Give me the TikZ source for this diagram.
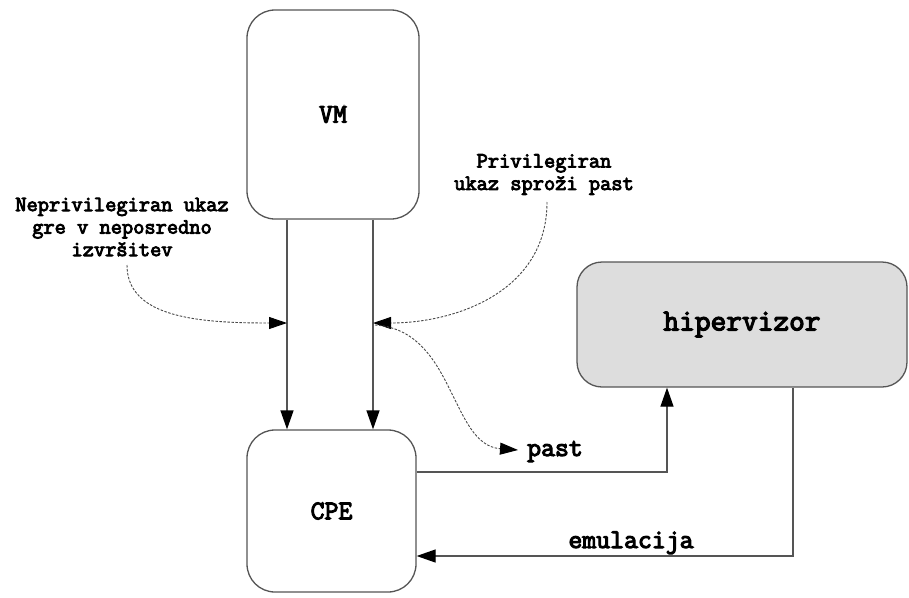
\documentclass[tikz,border=0pt]{standalone}
\usepackage{fontspec}
\setmonofont{Latin Modern Mono}[AutoFakeBold=4]
\usetikzlibrary{arrows.meta}
\definecolor{edge}{HTML}{555555}
\definecolor{hvfill}{HTML}{DDDDDD}
\begin{document}
\begin{tikzpicture}[x=1pt,y=-1pt,
  box/.style={draw=edge, line width=1.3pt, rounded corners=28pt, inner sep=0pt,
    font=\ttfamily\bfseries\fontsize{27}{31}\selectfont},
  note/.style={align=center, inner sep=0pt,
    font=\ttfamily\bfseries\fontsize{21.8}{22.5}\selectfont},
  lbl/.style={inner sep=0pt, font=\ttfamily\bfseries\fontsize{27}{31}\selectfont},
  flow/.style={draw=edge, line width=1.3pt, -{Triangle[length=19pt,width=13pt,color=black]}},
  hint/.style={draw=edge!85!black, line width=0.9pt, dash pattern=on 2.5pt off 1.5pt,
    -{Triangle[length=18pt,width=12pt,color=black]}}]
\useasboundingbox (0,0) rectangle (909,597);

% main blocks
\node[box, minimum width=172pt, minimum height=209pt] (vm) at (333,114.5) {VM};
\node[box, minimum width=169pt, minimum height=162pt] (cpe) at (331.5,511) {CPE};
\node[box, fill=hvfill, rounded corners=25pt, minimum width=330pt, minimum height=125pt,
  font=\ttfamily\bfseries\fontsize{30.5}{34}\selectfont] (hv) at (742,324.5) {hipervizor};

% instruction paths from VM to CPE
\coordinate (la) at (287,0);
\coordinate (lb) at (373,0);
\draw[flow] (vm.south -| la) -- (cpe.north -| la);
\draw[flow] (vm.south -| lb) -- (cpe.north -| lb);

% annotations
\node[note] (nonpriv) at (122,227) {Neprivilegiran ukaz\\gre v neposredno\\izvršitev};
\node[note] (priv) at (544,174.5) {Privilegiran\\ukaz sproži past};
\node[lbl, anchor=base] (past) at (555,456) {past};
\node[lbl, anchor=base] (emu) at (631,548) {emulacija};

\coordinate (ha) at (287,323);
\coordinate (hb) at (373,323);
\coordinate (hc) at (375,325);
\coordinate (pastend) at (518,450);

\draw[hint] (127,265) .. controls (127,318) and (200,323) .. (ha);
\draw[hint] (547,202) .. controls (547,292) and (455,323) .. (hb);
\draw[hint] (hc) .. controls (455,330) and (450,445) .. (pastend);

% trap to hypervisor and emulation back to CPE
\coordinate (tx) at (667,472);
\coordinate (ex) at (793,556);
\draw[flow] (cpe.east |- tx) -- (tx) -- (hv.south -| tx);
\draw[flow] (hv.south -| ex) -- (ex) -- (cpe.east |- ex);
\end{tikzpicture}
\end{document}
